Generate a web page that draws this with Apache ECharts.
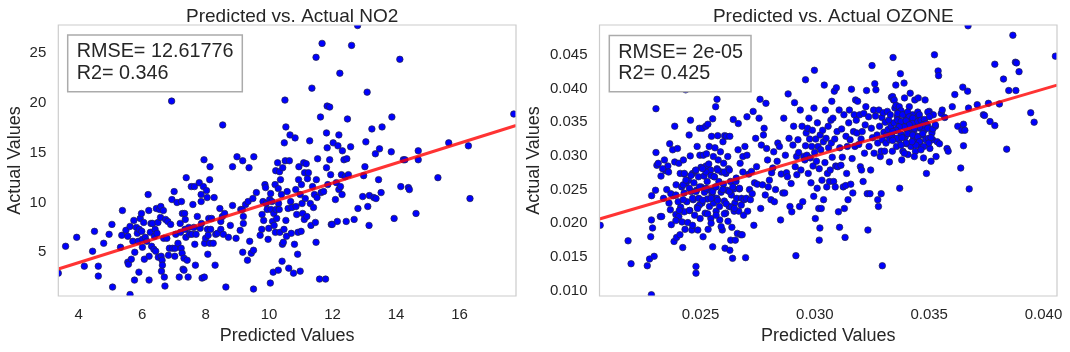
<!DOCTYPE html>
<html><head><meta charset="utf-8">
<script src="https://cdn.jsdelivr.net/npm/echarts@6/dist/echarts.min.js"></script>
<style>html,body{margin:0;padding:0;background:#fff}#c{width:1070px;height:352px}</style>
</head><body><div id="c"></div>
<script>
const FONT = '"Liberation Sans", Arial, sans-serif';
const TXT = '#262626';

// NO2: [predicted, actual]
const no2Points = [
[3.36,2.9],[3.59,5.6],[3.94,6.5],[4.18,3.6],[4.44,5.1],[4.5,7.1],[4.62,3.6],[4.62,2.6],[4.79,5.9],[4.96,6.8],[5.05,7.8],[5.07,1.5],[5.32,5.5],[5.36,6.7],[5.38,9.2],[5.49,7.2],[5.55,6.6],[5.55,4.0],[5.57,3.8],[5.62,7.6],[5.62,0.75],[5.66,4.3],[5.71,6.1],[5.74,8.2],[5.76,2.2],[5.77,5.0],[5.82,7.5],[5.85,6.9],[5.88,6.1],[5.9,3.0],[5.91,7.3],[5.94,8.4],[5.98,8.9],[5.99,7.1],[6.01,5.5],[6.01,6.3],[6.05,8.0],[6.07,4.3],[6.1,6.5],[6.15,6.1],[6.19,10.8],[6.21,9.2],[6.22,4.6],[6.22,2.2],[6.26,7.0],[6.28,7.9],[6.3,5.6],[6.33,7.9],[6.37,5.3],[6.39,6.6],[6.41,7.3],[6.43,5.1],[6.45,9.4],[6.47,6.9],[6.5,8.0],[6.51,4.5],[6.55,9.3],[6.58,8.5],[6.59,9.6],[6.6,4.6],[6.61,3.1],[6.63,4.2],[6.64,3.7],[6.67,9.2],[6.68,6.4],[6.7,2.5],[6.72,1.6],[6.74,8.3],[6.78,6.4],[6.81,8.1],[6.83,4.7],[6.86,5.4],[6.9,7.8],[6.93,20.2],[6.94,10.3],[6.96,5.4],[7.01,11.1],[7.03,4.6],[7.04,5.4],[7.06,6.8],[7.1,10.0],[7.13,5.9],[7.17,2.5],[7.2,7.9],[7.21,7.0],[7.23,5.4],[7.24,10.1],[7.26,4.9],[7.27,8.9],[7.29,3.3],[7.32,4.4],[7.32,3.2],[7.34,8.9],[7.35,7.3],[7.36,8.3],[7.38,6.5],[7.39,12.5],[7.42,4.2],[7.45,2.5],[7.47,7.5],[7.49,6.8],[7.55,11.6],[7.57,6.8],[7.6,9.8],[7.63,7.5],[7.65,11.6],[7.66,5.8],[7.68,3.7],[7.7,6.8],[7.74,8.6],[7.8,12.0],[7.83,7.4],[7.86,10.1],[7.86,10.8],[7.87,7.9],[7.89,2.4],[7.93,11.6],[7.95,14.3],[7.96,2.5],[7.97,5.9],[8.0,6.4],[8.03,11.2],[8.05,10.5],[8.06,7.3],[8.07,4.8],[8.08,6.7],[8.1,8.4],[8.13,12.3],[8.13,5.9],[8.14,13.6],[8.16,7.3],[8.19,8.4],[8.24,5.9],[8.27,10.5],[8.3,3.7],[8.32,6.8],[8.37,6.9],[8.45,9.4],[8.48,7.3],[8.48,8.1],[8.53,8.6],[8.54,17.8],[8.56,6.8],[8.6,8.9],[8.64,1.5],[8.72,6.5],[8.78,7.7],[8.85,13.6],[8.85,9.7],[8.96,6.4],[8.99,14.6],[9.09,7.2],[9.11,9.3],[9.16,9.3],[9.17,14.2],[9.17,5.0],[9.19,8.6],[9.19,7.9],[9.26,9.8],[9.32,4.2],[9.34,10.1],[9.37,13.5],[9.39,6.1],[9.44,4.9],[9.49,10.4],[9.51,1.3],[9.52,14.6],[9.51,5.2],[9.6,11.0],[9.72,6.7],[9.77,7.3],[9.78,8.8],[9.81,10.1],[9.83,8.2],[9.87,11.8],[9.89,11.5],[9.91,9.9],[9.94,9.3],[9.97,6.3],[9.99,7.4],[10.02,10.3],[10.04,1.9],[10.05,10.9],[10.06,9.3],[10.09,10.1],[10.11,8.1],[10.13,3.0],[10.15,8.9],[10.16,7.7],[10.19,11.8],[10.2,7.0],[10.21,13.2],[10.22,9.3],[10.24,8.4],[10.27,14.0],[10.29,3.2],[10.29,11.4],[10.3,9.9],[10.32,9.3],[10.33,13.1],[10.34,7.0],[10.36,12.3],[10.39,10.8],[10.41,4.1],[10.42,5.8],[10.43,13.5],[10.45,6.0],[10.47,7.3],[10.48,16.0],[10.5,20.3],[10.51,14.2],[10.53,17.6],[10.53,8.2],[10.55,6.6],[10.57,11.1],[10.6,9.4],[10.62,3.4],[10.64,14.2],[10.66,16.8],[10.68,10.1],[10.7,6.9],[10.72,9.5],[10.77,2.9],[10.8,5.8],[10.82,16.5],[10.84,11.3],[10.85,9.6],[10.87,8.8],[10.9,4.8],[10.91,7.0],[10.93,12.3],[10.94,13.6],[10.98,10.8],[10.98,3.1],[11.01,7.1],[11.02,11.8],[11.04,9.9],[11.06,8.9],[11.09,14.0],[11.11,8.3],[11.12,13.0],[11.14,10.4],[11.17,13.9],[11.19,8.6],[11.21,12.4],[11.24,13.0],[11.28,16.2],[11.3,9.9],[11.32,7.7],[11.35,21.5],[11.37,11.6],[11.4,9.5],[11.43,10.8],[11.46,8.0],[11.48,6.0],[11.48,24.6],[11.49,12.3],[11.51,10.5],[11.53,14.4],[11.59,2.3],[11.62,18.6],[11.64,11.0],[11.67,26.0],[11.72,11.1],[11.78,2.3],[11.81,13.5],[11.81,17.0],[11.83,15.5],[11.83,19.7],[11.85,11.8],[11.91,19.6],[11.91,14.3],[11.94,12.8],[11.96,7.8],[11.99,7.8],[12.02,16.0],[12.09,10.3],[12.12,12.0],[12.15,8.1],[12.17,15.7],[12.2,16.8],[12.2,11.3],[12.23,23.0],[12.25,11.6],[12.28,12.8],[12.3,10.8],[12.31,15.2],[12.36,14.3],[12.4,12.6],[12.43,8.1],[12.45,14.4],[12.47,18.4],[12.5,12.8],[12.57,15.6],[12.6,25.8],[12.68,8.3],[12.79,27.8],[12.8,9.4],[12.95,10.6],[12.98,12.7],[13.02,13.6],[13.05,16.1],[13.09,21.1],[13.11,9.6],[13.15,7.7],[13.16,10.7],[13.24,17.4],[13.3,10.5],[13.35,14.9],[13.37,10.4],[13.45,12.3],[13.48,15.4],[13.53,11.0],[13.56,17.6],[13.85,15.1],[13.87,18.6],[13.94,8.4],[14.12,24.4],[14.15,11.6],[14.23,14.3],[14.28,14.3],[14.39,11.5],[14.42,11.3],[14.63,8.9],[14.7,15.2],[14.7,14.3],[15.32,12.5],[15.66,16.0],[16.28,15.7],[16.33,10.4],[17.71,18.9]
];
const no2Fit = [[3.36,3.32],[17.78,17.75]];
const no2XTicks = [4,6,8,10,12,14,16];
const no2YTicks = [5,10,15,20,25];
const no2Stats = ['RMSE= 12.61776','R2= 0.346'];

// OZONE: [predicted, actual]
const ozonePoints = [
[0.02061,0.0197],[0.02183,0.0174],[0.02196,0.0140],[0.02267,0.0137],[0.02277,0.0147],[0.02282,0.0180],[0.02285,0.0205],[0.02286,0.0241],[0.0229,0.0193],[0.02285,0.0094],[0.02297,0.0151],[0.02305,0.0370],[0.02305,0.0305],[0.02303,0.0249],[0.02309,0.0286],[0.02315,0.0289],[0.02324,0.0210],[0.02327,0.0270],[0.0233,0.0210],[0.02338,0.0237],[0.02342,0.0294],[0.02347,0.0278],[0.02352,0.0250],[0.02357,0.0285],[0.02362,0.0230],[0.02365,0.0318],[0.02368,0.0220],[0.02372,0.0198],[0.02378,0.0309],[0.02381,0.0241],[0.02384,0.0173],[0.02387,0.0344],[0.02387,0.0291],[0.02392,0.0213],[0.02393,0.0257],[0.02395,0.0179],[0.02399,0.0311],[0.02402,0.0232],[0.02405,0.0289],[0.02405,0.0210],[0.0241,0.0183],[0.02411,0.0274],[0.02413,0.0224],[0.02417,0.0254],[0.02419,0.0202],[0.02422,0.0164],[0.02425,0.0294],[0.02428,0.0245],[0.02429,0.0273],[0.02429,0.0217],[0.02432,0.0191],[0.02435,0.0398],[0.02437,0.0260],[0.0244,0.0232],[0.02444,0.0201],[0.02447,0.0264],[0.0245,0.0331],[0.02453,0.0219],[0.02455,0.0300],[0.02456,0.0353],[0.02459,0.0247],[0.02462,0.0190],[0.02465,0.0274],[0.02468,0.0235],[0.02471,0.0260],[0.02474,0.0212],[0.02477,0.0278],[0.0248,0.0136],[0.0248,0.0126],[0.02482,0.0249],[0.02485,0.0314],[0.02486,0.0224],[0.02488,0.0190],[0.02491,0.0269],[0.02492,0.0237],[0.02495,0.0341],[0.02497,0.0301],[0.02498,0.0207],[0.02502,0.0283],[0.02503,0.0254],[0.02506,0.0230],[0.02508,0.0341],[0.02511,0.0180],[0.02512,0.0301],[0.02515,0.0270],[0.02517,0.0246],[0.0252,0.0215],[0.02523,0.0344],[0.02524,0.0285],[0.02526,0.0303],[0.02529,0.0262],[0.0253,0.0236],[0.02532,0.0347],[0.02533,0.0191],[0.02536,0.0288],[0.02538,0.0314],[0.02539,0.0225],[0.02541,0.0249],[0.02544,0.0279],[0.02545,0.0207],[0.02548,0.0329],[0.0255,0.0242],[0.02553,0.0165],[0.02553,0.0355],[0.02556,0.0299],[0.02557,0.0230],[0.0256,0.0269],[0.02563,0.0312],[0.02565,0.0254],[0.02566,0.0373],[0.02568,0.0218],[0.02571,0.0237],[0.02572,0.0384],[0.02572,0.0281],[0.02575,0.0330],[0.02577,0.0294],[0.0258,0.0262],[0.02583,0.0225],[0.02584,0.0205],[0.02587,0.0306],[0.0259,0.0246],[0.02592,0.0276],[0.02595,0.0190],[0.02598,0.0321],[0.026,0.0258],[0.02601,0.0289],[0.02604,0.0233],[0.02605,0.0330],[0.02607,0.0163],[0.0261,0.0215],[0.02611,0.0274],[0.02613,0.0329],[0.02616,0.0249],[0.02619,0.0299],[0.0262,0.0203],[0.02622,0.0281],[0.02625,0.0225],[0.02628,0.0160],[0.02628,0.0329],[0.02631,0.0262],[0.02632,0.0175],[0.02635,0.0242],[0.02637,0.0194],[0.0264,0.0148],[0.02643,0.0354],[0.02646,0.0251],[0.02647,0.0218],[0.0265,0.0230],[0.02652,0.0175],[0.02655,0.0262],[0.02658,0.0237],[0.02661,0.0185],[0.02664,0.0309],[0.02665,0.0348],[0.02667,0.0218],[0.0267,0.0251],[0.02673,0.0289],[0.02676,0.0183],[0.02679,0.0237],[0.02682,0.0183],[0.02685,0.0299],[0.02688,0.0212],[0.02691,0.0235],[0.02694,0.0314],[0.02697,0.0149],[0.027,0.0237],[0.02703,0.0358],[0.02703,0.0301],[0.02706,0.0218],[0.02711,0.0273],[0.02714,0.0250],[0.02718,0.0235],[0.02723,0.0277],[0.02726,0.0244],[0.0273,0.0366],[0.02733,0.0197],[0.02736,0.0260],[0.02741,0.0326],[0.02745,0.0284],[0.02748,0.0258],[0.02756,0.0356],[0.0276,0.0384],[0.02763,0.0222],[0.02766,0.0316],[0.02771,0.0257],[0.02775,0.0331],[0.02778,0.0341],[0.02783,0.0242],[0.02786,0.0378],[0.02789,0.0311],[0.02793,0.0294],[0.02796,0.0254],[0.02801,0.0264],[0.02808,0.0235],[0.02811,0.0275],[0.02816,0.0282],[0.0282,0.0306],[0.02823,0.0232],[0.02828,0.0250],[0.02835,0.0292],[0.02838,0.0319],[0.02845,0.0314],[0.0285,0.0205],[0.02853,0.0273],[0.0286,0.0245],[0.02864,0.0356],[0.02868,0.0245],[0.02871,0.0301],[0.02876,0.0275],[0.0288,0.0269],[0.02883,0.0392],[0.02887,0.0326],[0.02891,0.0225],[0.02896,0.0259],[0.02899,0.0217],[0.02904,0.0316],[0.02907,0.0344],[0.02911,0.0379],[0.02914,0.0284],[0.02917,0.0152],[0.0292,0.0299],[0.02921,0.0272],[0.02926,0.0324],[0.02929,0.0305],[0.02933,0.0225],[0.02936,0.0368],[0.02939,0.0279],[0.02944,0.0344],[0.02947,0.0232],[0.02951,0.0299],[0.02956,0.0294],[0.02959,0.0413],[0.02959,0.0315],[0.02962,0.0334],[0.02965,0.0301],[0.02968,0.0341],[0.02971,0.0274],[0.02974,0.0356],[0.02977,0.0325],[0.0298,0.0297],[0.02983,0.0260],[0.02986,0.0314],[0.02989,0.0338],[0.02992,0.0285],[0.02995,0.0240],[0.02996,0.0371],[0.02998,0.0427],[0.02999,0.0305],[0.03002,0.0207],[0.03004,0.0325],[0.03007,0.0292],[0.0301,0.0252],[0.03011,0.0349],[0.03014,0.0314],[0.03017,0.0222],[0.03019,0.0175],[0.03019,0.0281],[0.03022,0.0193],[0.03023,0.0331],[0.03026,0.0309],[0.03028,0.0222],[0.03031,0.0264],[0.03034,0.0338],[0.03037,0.0321],[0.03038,0.0235],[0.03041,0.0405],[0.03044,0.0290],[0.03046,0.0368],[0.03049,0.0326],[0.03052,0.0254],[0.03055,0.0274],[0.03058,0.0344],[0.0306,0.0312],[0.03064,0.0262],[0.03067,0.0279],[0.0307,0.0353],[0.03072,0.0319],[0.03074,0.0381],[0.03076,0.0298],[0.03079,0.0356],[0.03082,0.0262],[0.03085,0.0396],[0.03087,0.0325],[0.03089,0.0254],[0.03091,0.0285],[0.03094,0.0401],[0.03097,0.0336],[0.031,0.0284],[0.03103,0.0217],[0.03106,0.0368],[0.03108,0.0194],[0.03109,0.0312],[0.03114,0.0286],[0.03117,0.0340],[0.0312,0.0298],[0.03124,0.0254],[0.03127,0.0361],[0.03129,0.0222],[0.03132,0.0179],[0.03135,0.0256],[0.03136,0.0329],[0.03139,0.0274],[0.03142,0.0314],[0.03145,0.0235],[0.03148,0.0349],[0.03151,0.0368],[0.03154,0.0324],[0.03157,0.0258],[0.0316,0.0399],[0.03163,0.0296],[0.03166,0.0245],[0.03169,0.0336],[0.03172,0.0361],[0.03175,0.0314],[0.03178,0.0383],[0.03181,0.0353],[0.03184,0.0334],[0.03187,0.0381],[0.03192,0.0317],[0.03196,0.0361],[0.03199,0.0284],[0.03202,0.0325],[0.03204,0.0279],[0.03207,0.0336],[0.03211,0.0262],[0.03214,0.0363],[0.03217,0.0304],[0.0322,0.0346],[0.03223,0.0373],[0.03226,0.0397],[0.03229,0.0244],[0.03232,0.0190],[0.03235,0.0358],[0.03237,0.0314],[0.03241,0.0244],[0.03244,0.0279],[0.03247,0.0341],[0.0325,0.0434],[0.03252,0.0327],[0.03257,0.0368],[0.03259,0.0304],[0.03262,0.0407],[0.03265,0.0359],[0.03267,0.0398],[0.03272,0.0331],[0.03275,0.0319],[0.03275,0.0235],[0.03278,0.0225],[0.0328,0.0368],[0.03283,0.0344],[0.03286,0.0299],[0.0329,0.0244],[0.0329,0.0307],[0.03293,0.0357],[0.03295,0.0324],[0.03295,0.0137],[0.03299,0.0364],[0.03302,0.0335],[0.03305,0.0307],[0.03308,0.0350],[0.03311,0.0319],[0.03314,0.0331],[0.03317,0.0366],[0.0332,0.0339],[0.03323,0.0353],[0.03326,0.0291],[0.03327,0.0324],[0.0333,0.0361],[0.03333,0.0344],[0.03335,0.0387],[0.03338,0.0329],[0.03339,0.0307],[0.03342,0.0446],[0.03344,0.0383],[0.03347,0.0349],[0.0335,0.0371],[0.03353,0.0338],[0.03354,0.0405],[0.03357,0.0314],[0.0336,0.0358],[0.03363,0.0341],[0.03365,0.0365],[0.03368,0.0324],[0.03371,0.0252],[0.03372,0.0351],[0.03374,0.0422],[0.03377,0.0332],[0.0338,0.0294],[0.03383,0.0363],[0.03385,0.0307],[0.03387,0.0345],[0.0339,0.0408],[0.03392,0.0386],[0.03395,0.0328],[0.03398,0.0358],[0.03401,0.0318],[0.03404,0.0338],[0.03407,0.0302],[0.0341,0.0353],[0.03413,0.0373],[0.03416,0.0334],[0.03417,0.0393],[0.0342,0.0314],[0.03425,0.0344],[0.03428,0.0361],[0.03431,0.0324],[0.03434,0.0338],[0.03437,0.0383],[0.0344,0.0307],[0.03443,0.0350],[0.03448,0.0329],[0.03452,0.0386],[0.03455,0.0358],[0.03458,0.0321],[0.03461,0.0341],[0.03464,0.0314],[0.03467,0.0353],[0.0347,0.0331],[0.03475,0.0297],[0.03478,0.0338],[0.03482,0.0383],[0.03485,0.0324],[0.03488,0.0274],[0.03493,0.0345],[0.03497,0.0326],[0.035,0.0366],[0.03503,0.0311],[0.03508,0.0292],[0.03512,0.0334],[0.03515,0.0324],[0.03518,0.0361],[0.03523,0.0450],[0.03527,0.0344],[0.0353,0.0299],[0.03535,0.0321],[0.03539,0.0426],[0.03541,0.0419],[0.03545,0.0318],[0.03553,0.0363],[0.03557,0.0368],[0.03568,0.0357],[0.03578,0.0311],[0.03583,0.0307],[0.03601,0.0373],[0.03612,0.0391],[0.03625,0.0344],[0.03638,0.0282],[0.03643,0.0338],[0.03647,0.0402],[0.0365,0.0347],[0.0365,0.0315],[0.03656,0.0338],[0.03668,0.0396],[0.03672,0.0371],[0.03675,0.0251],[0.0371,0.0376],[0.03737,0.0361],[0.03742,0.0360],[0.03759,0.0378],[0.03766,0.0351],[0.03787,0.0436],[0.03787,0.0345],[0.03807,0.0377],[0.03825,0.0414],[0.03839,0.0310],[0.03848,0.0397],[0.03866,0.0479],[0.03877,0.0439],[0.03882,0.0438],[0.03879,0.0397],[0.03893,0.0425],[0.03944,0.0364],[0.03959,0.0350],[0.04052,0.0448],[0.0367,0.0493],
[0.0334,0.0388],[0.03347,0.0383],[0.03355,0.0375],[0.03369,0.0373],[0.03377,0.0367],[0.03362,0.0363],[0.03384,0.0361],[0.03406,0.0365],[0.03413,0.0358],[0.03362,0.0353],[0.03377,0.0351],[0.03399,0.0352],[0.03428,0.0356],[0.0345,0.0365],[0.03457,0.0361],[0.03428,0.0348],[0.0345,0.0351],[0.03464,0.0353],[0.03479,0.0354],[0.03494,0.0365],[0.03501,0.0358],[0.03486,0.0348],[0.03472,0.0346],[0.03457,0.0343],[0.03435,0.0341],[0.03413,0.0346],[0.03391,0.0343],[0.03369,0.0343],[0.03355,0.0338],[0.0334,0.0336],[0.03406,0.0333],[0.03428,0.0331],[0.0345,0.0328],[0.03472,0.0333],[0.03494,0.0341],[0.03516,0.0340],[0.03527,0.0346],[0.03508,0.0327],[0.03498,0.0319],[0.03476,0.0314],[0.03457,0.0321],[0.03442,0.0316],[0.03425,0.0321],[0.03399,0.0319],[0.03377,0.0316],[0.03358,0.0326],[0.03381,0.0327],[0.0334,0.0323],[0.03391,0.0304],[0.03435,0.0299],[0.03464,0.0309],
[0.02334,0.0281],[0.0236,0.0276],[0.02429,0.0274],[0.02458,0.0271],[0.0248,0.0279],[0.02524,0.0276],[0.02546,0.0271],[0.02575,0.0279],[0.02604,0.0276],[0.02626,0.0279],[0.02656,0.0267],[0.02424,0.0257],[0.02451,0.0252],[0.0248,0.0247],[0.02495,0.0254],[0.02524,0.0252],[0.02553,0.0247],[0.02568,0.0254],[0.02597,0.0250],[0.02626,0.0247],[0.02641,0.0254],[0.0267,0.0252],[0.0237,0.0244],[0.02392,0.0242],[0.02424,0.0235],[0.02465,0.0237],[0.02495,0.0227],[0.02509,0.0234],[0.02546,0.0237],[0.02575,0.0234],[0.02612,0.0229],[0.02634,0.0224],[0.02678,0.0227],[0.02407,0.0219],[0.02451,0.0219],[0.02487,0.0222],[0.02531,0.0214],[0.02568,0.0212],[0.02604,0.0214],[0.02648,0.0222],[0.02392,0.0204],[0.02465,0.0197],[0.02546,0.0200],[0.0259,0.0195],[0.02436,0.0264],[0.02509,0.0281],[0.0256,0.0269],[0.02685,0.0276]
];
const ozoneFit = [[0.02058,0.02064],[0.04059,0.04049]];
const ozoneXTicks = [0.025,0.030,0.035,0.040];
const ozoneYTicks = [0.010,0.015,0.020,0.025,0.030,0.035,0.040,0.045];
const ozoneStats = ['RMSE= 2e-05','R2= 0.425'];

// layout (pixels)
const W = 1070, H = 352;
const P1 = {x0:58.3, x1:516, y0:25, y1:296};
const P2 = {x0:599.5, x1:1057, y0:25, y1:296};

const chart = echarts.init(document.getElementById('c'), null, {renderer:'canvas'});

function xAxisCfg(idx, min, max, ticks, fmt){
  return {type:'value', gridIndex:idx, min:min, max:max, z:10,
    name:'Predicted Values', nameLocation:'middle', nameGap:30,
    nameTextStyle:{fontSize:18, color:TXT, fontFamily:FONT},
    axisLine:{show:false}, axisTick:{show:false}, splitLine:{show:false},
    axisLabel:{customValues:ticks, formatter:fmt, fontSize:15, color:TXT, fontFamily:FONT, margin:11}};
}
function yAxisCfg(idx, min, max, ticks, fmt, gap){
  return {type:'value', gridIndex:idx, min:min, max:max, z:10,
    name:'Actual Values', nameLocation:'middle', nameGap:gap,
    nameTextStyle:{fontSize:18, color:TXT, fontFamily:FONT},
    axisLine:{show:false}, axisTick:{show:false}, splitLine:{show:false},
    axisLabel:{customValues:ticks, formatter:fmt, fontSize:15, color:TXT, fontFamily:FONT, margin:12}};
}
const intFmt = v => String(Math.round(v));
const dec3 = v => v.toFixed(3);

function statBox(x, y, w, h, lines){
  return {type:'group', children:[
    {type:'rect', z:100, silent:true, shape:{x:x, y:y, width:w, height:h}, style:{fill:'#ffffff', stroke:'#ababab', lineWidth:1.5}},
    {type:'text', z:101, silent:true, x:x+9, y:y+6, style:{text:lines.join('\n'), fill:TXT, fontSize:19.8, fontFamily:FONT, lineHeight:21.5}}
  ]};
}
function maskRect(x, y, w, h){
  return {type:'rect', z:5, silent:true, shape:{x:x, y:y, width:w, height:h}, style:{fill:'#ffffff'}};
}
function frameRect(p){
  return {type:'rect', z:6, silent:true, shape:{x:p.x0, y:p.y0, width:p.x1-p.x0, height:p.y1-p.y0}, style:{fill:'none', stroke:'#cccccc', lineWidth:1.2}};
}

chart.setOption({
  animation:false,
  backgroundColor:'#ffffff',
  title:[
    {text:'Predicted vs. Actual NO2', left:(P1.x0+P1.x1)/2, top:2, textAlign:'center', z:20, textStyle:{fontSize:19, fontWeight:'normal', color:TXT, fontFamily:FONT}},
    {text:'Predicted vs. Actual OZONE', left:(P2.x0+P2.x1)/2, top:2, textAlign:'center', z:20, textStyle:{fontSize:19, fontWeight:'normal', color:TXT, fontFamily:FONT}}
  ],
  grid:[
    {left:P1.x0, right:W-P1.x1, top:P1.y0, bottom:H-P1.y1, show:false},
    {left:P2.x0, right:W-P2.x1, top:P2.y0, bottom:H-P2.y1, show:false}
  ],
  xAxis:[ xAxisCfg(0, 3.36, 17.78, no2XTicks, intFmt), xAxisCfg(1, 0.02058, 0.04059, ozoneXTicks, dec3) ],
  yAxis:[ yAxisCfg(0, 0.6, 27.85, no2YTicks, intFmt, 34.5), yAxisCfg(1, 0.00921, 0.04942, ozoneYTicks, dec3, 56) ],
  series:[
    {type:'scatter', xAxisIndex:0, yAxisIndex:0, data:no2Points, symbolSize:6.5, z:2,
      itemStyle:{color:'#0000ff', borderColor:'#22224a', borderWidth:0.7, opacity:1}},
    {type:'line', xAxisIndex:0, yAxisIndex:0, data:no2Fit, showSymbol:false, z:3,
      lineStyle:{color:'rgba(255,0,0,0.8)', width:3}},
    {type:'scatter', xAxisIndex:1, yAxisIndex:1, data:ozonePoints, symbolSize:6.5, z:2,
      itemStyle:{color:'#0000ff', borderColor:'#22224a', borderWidth:0.7, opacity:1}},
    {type:'line', xAxisIndex:1, yAxisIndex:1, data:ozoneFit, showSymbol:false, z:3,
      lineStyle:{color:'rgba(255,0,0,0.8)', width:3}}
  ],
  graphic:[
    maskRect(0, 0, W, P1.y0),
    maskRect(0, P1.y1, W, H-P1.y1),
    maskRect(0, 0, P1.x0, H),
    maskRect(P1.x1, 0, P2.x0-P1.x1, H),
    maskRect(P2.x1, 0, W-P2.x1, H),
    frameRect(P1), frameRect(P2),
    statBox(67.7, 35, 174.6, 56.7, no2Stats),
    statBox(609.3, 35.5, 141.7, 56.2, ozoneStats)
  ]
});
</script></body></html>
